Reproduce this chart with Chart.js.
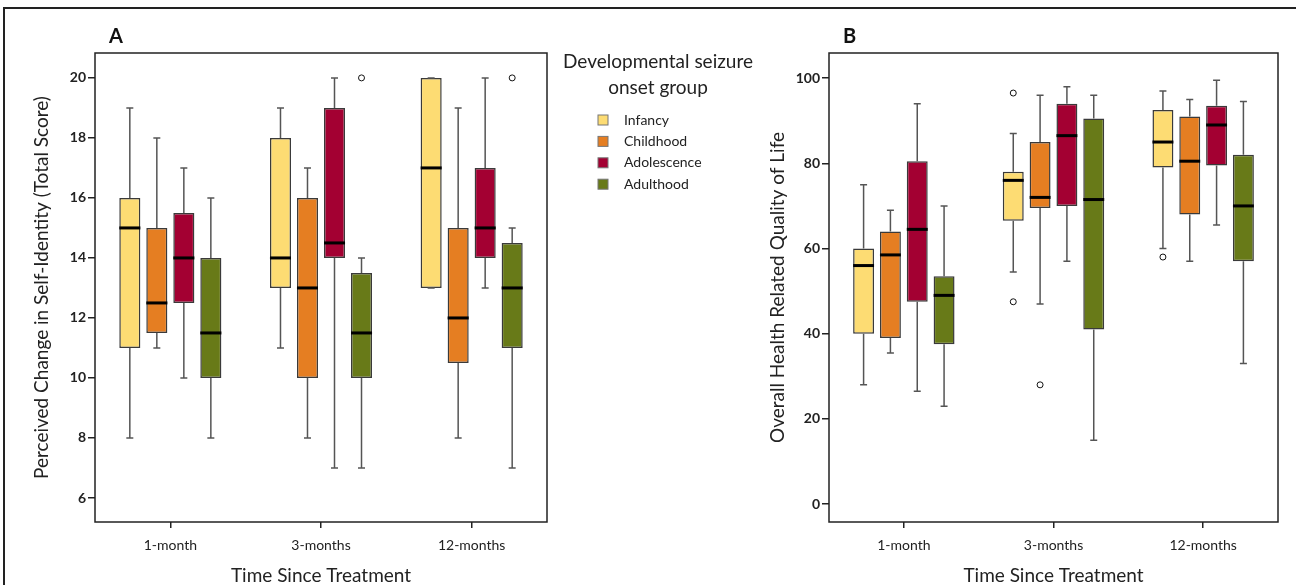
<!DOCTYPE html>
<html>
<head>
<meta charset="utf-8">
<script src="https://cdn.jsdelivr.net/npm/chart.js@4.4.0/dist/chart.umd.min.js"></script>
<style>
  html, body { margin: 0; padding: 0; background: #fff; }
  #wrap { position: relative; width: 1296px; height: 585px; overflow: hidden; }
  #frame { position: absolute; left: 3px; top: 7px; width: 1300px; height: 600px; border-top: 2px solid #222; border-left: 2px solid #222; }
  #boxA { position: absolute; left: 0; top: 0; width: 770px; height: 585px; }
  #boxB { position: absolute; left: 750px; top: 0; width: 546px; height: 585px; }
</style>
</head>
<body>
<div id="wrap">
  <div id="frame"></div>
  <div id="boxA"><canvas id="chartA"></canvas></div>
  <div id="boxB"><canvas id="chartB"></canvas></div>
</div>
<script>
// categories and groups
const categories = ['1-month', '3-months', '12-months']
const groups = ['Infancy', 'Childhood', 'Adolescence', 'Adulthood']
const groupColors = ['#fddc73', '#e57e22', '#a30032', '#687a18']
const legendTitle = ['Developmental seizure', 'onset group']

// panel A: self-identity, [min, q1, median, q3, max] per time point
const identityInfancy = [[8, 11, 15, 16, 19], [11, 13, 14, 18, 19], [13, 13, 17, 20, 20]]
const identityChildhood = [[11, 11.5, 12.5, 15, 18], [8, 10, 13, 16, 17], [8, 10.5, 12, 15, 19]]
const identityAdolescence = [[10, 12.5, 14, 15.5, 17], [7, 14, 14.5, 19, 20], [13, 14, 15, 17, 20]]
const identityAdulthood = [[8, 10, 11.5, 14, 16], [7, 10, 11.5, 13.5, 14], [7, 11, 13, 14.5, 15]]
const identityOutliers = [[[], [], []], [[], [], []], [[], [], []], [[], [20], [20]]]
const identityTicks = [6, 8, 10, 12, 14, 16, 18, 20]

// panel B: quality of life
const qolInfancy = [[28, 40, 56, 60, 75], [54.5, 66.5, 76, 78, 87], [60, 79, 85, 92.5, 97]]
const qolChildhood = [[35.5, 39, 58.5, 64, 69], [47, 69.5, 72, 85, 96], [57, 68, 80.5, 91, 95]]
const qolAdolescence = [[26.5, 47.5, 64.5, 80.5, 94], [57, 70, 86.5, 94, 98], [65.5, 79.5, 89, 93.5, 99.5]]
const qolAdulthood = [[23, 37.5, 49, 53.5, 70], [15, 41, 71.5, 90.5, 96], [33, 57, 70, 82, 94.5]]
const qolOutliers = [[[], [96.5, 47.5], [58]], [[], [28], []], [[], [], []], [[], [], []]]
const qolTicks = [0, 20, 40, 60, 80, 100]

Chart.defaults.font.family = 'Lato, "Open Sans", sans-serif'
Chart.defaults.color = '#222'

const boxPlot = {
    id: 'boxPlot',
    afterDatasetsDraw(chart) {
        const ctx = chart.ctx
        const y = chart.scales.y
        ctx.save()
        chart.data.datasets.forEach((ds, i) => {
            const meta = chart.getDatasetMeta(i)
            meta.data.forEach((bar, j) => {
                const s = ds.stats[j]
                const x = bar.x
                const half = bar.width / 2
                // whiskers
                ctx.strokeStyle = '#555'
                ctx.lineWidth = 1.5
                ctx.beginPath()
                ctx.moveTo(x, y.getPixelForValue(s[3]))
                ctx.lineTo(x, y.getPixelForValue(s[4]))
                ctx.moveTo(x, y.getPixelForValue(s[1]))
                ctx.lineTo(x, y.getPixelForValue(s[0]))
                ctx.moveTo(x - 3.5, y.getPixelForValue(s[4]))
                ctx.lineTo(x + 3.5, y.getPixelForValue(s[4]))
                ctx.moveTo(x - 3.5, y.getPixelForValue(s[0]))
                ctx.lineTo(x + 3.5, y.getPixelForValue(s[0]))
                ctx.stroke()
                // median
                ctx.strokeStyle = '#000'
                ctx.lineWidth = 3
                ctx.beginPath()
                ctx.moveTo(x - half, y.getPixelForValue(s[2]))
                ctx.lineTo(x + half, y.getPixelForValue(s[2]))
                ctx.stroke()
                // outliers
                ctx.lineWidth = 1
                ctx.strokeStyle = '#111'
                ds.outliers[j].forEach(v => {
                    ctx.beginPath()
                    ctx.arc(x, y.getPixelForValue(v), 3, 0, Math.PI * 2)
                    ctx.fillStyle = '#fff'
                    ctx.fill()
                    ctx.stroke()
                })
            })
        })
        ctx.restore()
    },
    afterDraw(chart, args, opts) {
        const ctx = chart.ctx
        const a = chart.chartArea
        ctx.save()
        ctx.strokeStyle = '#222'
        ctx.lineWidth = 1.5
        ctx.strokeRect(a.left, a.top, a.right - a.left, a.bottom - a.top)
        ctx.fillStyle = '#111'
        ctx.font = 'bold 20px Lato'
        ctx.textBaseline = 'middle'
        ctx.fillText(opts.letter, a.left + 14, 37)
        if (opts.legend) {
            const cx = a.right + 111
            ctx.font = '19px Lato'
            ctx.textAlign = 'center'
            ctx.fillStyle = '#222'
            legendTitle.forEach((t, k) => ctx.fillText(t, cx, 62 + k * 26))
            ctx.textAlign = 'left'
            ctx.font = '14px Lato'
            chart.data.datasets.forEach((ds, k) => {
                const ly = 120 + k * 21.4
                ctx.fillStyle = ds.backgroundColor
                ctx.fillRect(a.right + 51, ly - 5, 10, 10)
                ctx.strokeStyle = '#777'
                ctx.lineWidth = 1
                ctx.strokeRect(a.right + 51, ly - 5, 10, 10)
                ctx.fillStyle = '#222'
                ctx.fillText(ds.label, a.right + 77, ly)
            })
        }
        ctx.restore()
    }
}

function makeDatasets(series, outliers) {
    return series.map((stats, i) => ({
        label: groups[i],
        data: stats.map(s => [s[1], s[3]]),
        stats: stats,
        outliers: outliers[i],
        backgroundColor: groupColors[i],
        borderColor: '#3a3a3a',
        borderWidth: 1.5,
        borderSkipped: false,
        categoryPercentage: 0.717,
        barPercentage: 0.78,
    }))
}

function makeOptions(o) {
    return {
        responsive: true,
        maintainAspectRatio: false,
        animation: false,
        layout: { padding: { left: 0, top: 53, right: o.right, bottom: 0 } },
        plugins: {
            legend: { display: false },
            tooltip: { enabled: false },
            boxPlot: { letter: o.letter, legend: o.legend },
        },
        scales: {
            x: {
                type: 'category',
                offset: true,
                border: { display: false },
                grid: { offset: false, drawOnChartArea: false, drawTicks: true, tickLength: 6, color: '#222', lineWidth: 1.5 },
                ticks: { font: { size: 14 }, padding: 9, color: '#222' },
                title: { display: true, text: 'Time Since Treatment', font: { size: 19, lineHeight: 1 }, padding: { top: 0, bottom: 0 }, color: '#222' },
                afterFit: s => { s.height = 63 },
            },
            y: {
                type: 'linear',
                min: o.min,
                max: o.max,
                border: { display: false },
                grid: { drawOnChartArea: false, drawTicks: true, tickLength: 7, color: '#222', lineWidth: 1.5 },
                ticks: { font: { size: 14, weight: 'bold' }, padding: 2, color: '#222' },
                afterBuildTicks: s => { s.ticks = o.ticks.map(v => ({ value: v })) },
                title: { display: true, text: o.ytitle, font: { size: 19, lineHeight: 1 }, padding: { top: o.titlePad, bottom: 0 }, color: '#222' },
                afterFit: s => { s.width = o.yWidth },
            }
        }
    }
}

new Chart(document.getElementById('chartA'), {
    type: 'bar',
    data: {
        labels: categories,
        datasets: makeDatasets([identityInfancy, identityChildhood, identityAdolescence, identityAdulthood], identityOutliers)
    },
    options: makeOptions({ letter: 'A', legend: true, right: 223, min: 5.2, max: 20.83, ticks: identityTicks,
        ytitle: 'Perceived Change in Self-Identity (Total Score)', titlePad: 32.5, yWidth: 95 }),
    plugins: [boxPlot]
})

new Chart(document.getElementById('chartB'), {
    type: 'bar',
    data: {
        labels: categories,
        datasets: makeDatasets([qolInfancy, qolChildhood, qolAdolescence, qolAdulthood], qolOutliers)
    },
    options: makeOptions({ letter: 'B', legend: false, right: 18, min: -4.2, max: 105.9, ticks: qolTicks,
        ytitle: 'Overall Health Related Quality of Life', titlePad: 18.5, yWidth: 79 }),
    plugins: [boxPlot]
})
</script>
</body>
</html>
